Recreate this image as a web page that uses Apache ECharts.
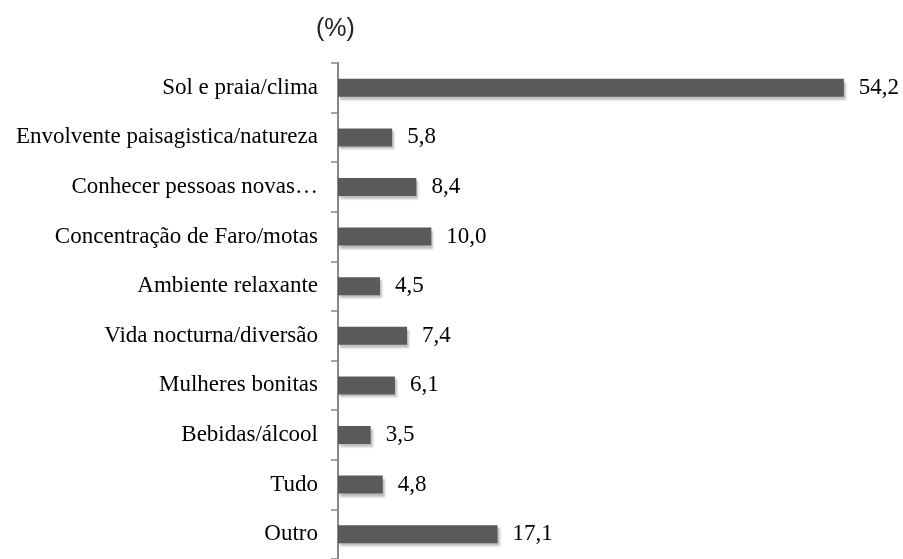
<!DOCTYPE html>
<html>
<head>
    <meta charset="utf-8">
    <title>ECharts</title>
    <script src="https://cdn.jsdelivr.net/npm/echarts@6/dist/echarts.min.js"></script>
</head>
<body style="margin:0;">
<div id="main" style="width: 903px;height:559px;"></div>
<script type="text/javascript">

        // categories top to bottom
        var categories = ['Sol e praia/clima', 'Envolvente paisagistica/natureza', 'Conhecer pessoas novas…',
            'Concentração de Faro/motas', 'Ambiente relaxante', 'Vida nocturna/diversão',
            'Mulheres bonitas', 'Bebidas/álcool', 'Tudo', 'Outro'];
        var values = [54.2, 5.8, 8.4, 10.0, 4.5, 7.4, 6.1, 3.5, 4.8, 17.1];

        var myChart = echarts.init(document.getElementById('main'));

        var option = {
            animation: false,
            graphic: [{
                type: 'text',
                left: 316,
                top: 17,
                style: {text: '(%)', font: '25px "Liberation Sans"', fill: '#222'}
            }],
            grid: {
                left: 338,
                top: 63,
                width: 560,
                height: 502
            },
            xAxis: {
                type: 'value',
                min: 0,
                max: 60,
                show: false
            },
            yAxis: {
                type: 'category',
                inverse: true,
                data: categories,
                axisLine: {lineStyle: {color: '#868686', width: 2}},
                axisTick: {show: true, inside: false, length: 7, lineStyle: {color: '#868686', width: 1.5}},
                axisLabel: {
                    margin: 20,
                    color: '#000',
                    fontFamily: 'Liberation Serif',
                    fontSize: 23
                }
            },
            series: [{
                type: 'bar',
                data: values,
                barWidth: 18,
                itemStyle: {
                    color: '#5a5a5a',
                    shadowColor: 'rgba(0,0,0,0.25)',
                    shadowBlur: 2,
                    shadowOffsetX: 2,
                    shadowOffsetY: 3
                },
                label: {
                    show: true,
                    position: 'right',
                    distance: 15,
                    color: '#000',
                    fontFamily: 'Liberation Serif',
                    fontSize: 23,
                    formatter: function (p) {
                        return p.value.toFixed(1).replace('.', ',');
                    }
                }
            }]
        };

        myChart.setOption(option);

</script>
</body>
</html>
